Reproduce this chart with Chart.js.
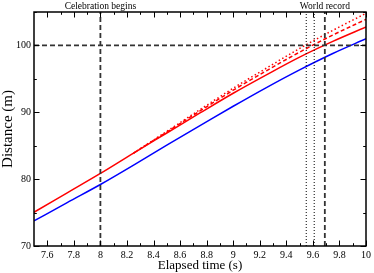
<!DOCTYPE html>
<html>
<head>
<meta charset="utf-8">
<script src="https://cdn.jsdelivr.net/npm/chart.js@4.4.1/dist/chart.umd.min.js"></script>
<style>
  body { margin: 0; background: #fff; }
</style>
</head>
<body>
<canvas id="raceChart" width="374" height="273"></canvas>
<script>
// Sample times (s) and distances (m)
var times = [7.5, 7.75, 8.0, 8.25, 8.5, 8.75, 9.0, 9.25, 9.5, 9.75, 10.0];
var blueDistance = [73.75, 76.5, 79.2, 82.1, 85.1, 88.0, 90.9, 93.7, 96.35, 98.8, 101.0];
var redDistance = [75.05, 77.95, 80.85, 83.9, 86.9, 89.9, 92.85, 95.6, 98.25, 100.6, 102.75];

// The two extrapolated red curves split off around 8.25 s
var extraTimes = [8.25, 8.5, 8.75, 9.0, 9.25, 9.5, 9.75, 10.0];
var redDashedDistance = [83.9, 87.05, 90.2, 93.3, 96.2, 99.0, 101.55, 103.9];
var redDottedDistance = [83.9, 87.15, 90.4, 93.6, 96.6, 99.55, 102.25, 104.8];

// Reference lines
var celebrationTime = 8.0;
var recordTime = 9.69;
var dottedTimes = [9.55, 9.61];
var finishDistance = 100;

// Axis ticks
var xTicks = [7.6, 7.8, 8.0, 8.2, 8.4, 8.6, 8.8, 9.0, 9.2, 9.4, 9.6, 9.8, 10.0];
var yTicks = [70, 80, 90, 100];

var serif = "'Liberation Serif', 'DejaVu Serif', serif";

function pairs(xs, ys) {
    return xs.map(function (x, i) { return { x: x, y: ys[i] }; });
}

function vline(x) {
    return [{ x: x, y: 70 }, { x: x, y: 105 }];
}

// Frame, inward ticks on all four sides, and the two labels at the top
var framePlugin = {
    id: 'frame',
    afterDraw: function (chart) {
        var ctx = chart.ctx;
        var a = chart.chartArea;
        var xs = chart.scales.x;
        var ys = chart.scales.y;
        ctx.save();
        ctx.strokeStyle = '#000';
        ctx.lineWidth = 1;

        function tickX(v, len) {
            var px = Math.round(xs.getPixelForValue(v)) + 0.5;
            ctx.beginPath();
            ctx.moveTo(px, a.bottom); ctx.lineTo(px, a.bottom - len);
            ctx.moveTo(px, a.top); ctx.lineTo(px, a.top + len);
            ctx.stroke();
        }
        function tickY(v, len) {
            var py = Math.round(ys.getPixelForValue(v)) + 0.5;
            ctx.beginPath();
            ctx.moveTo(a.left, py); ctx.lineTo(a.left + len, py);
            ctx.moveTo(a.right, py); ctx.lineTo(a.right - len, py);
            ctx.stroke();
        }
        xTicks.forEach(function (v, i) {
            tickX(v, 5.5);
            if (i > 0) tickX((v + xTicks[i - 1]) / 2, 2.8);
        });
        yTicks.forEach(function (v) {
            tickY(v, 5.5);
            tickY(v + 5, 2.8);
        });

        ctx.lineWidth = 1.5;
        ctx.strokeRect(a.left, a.top, a.right - a.left, a.bottom - a.top);

        ctx.fillStyle = '#000';
        ctx.font = '9.5px ' + serif;
        ctx.textAlign = 'center';
        ctx.textBaseline = 'alphabetic';
        ctx.fillText('Celebration begins', xs.getPixelForValue(celebrationTime), 8.5);
        ctx.fillText('World record', xs.getPixelForValue(recordTime), 8.5);
        ctx.restore();
    }
};

var refStyle = { borderColor: '#333', borderWidth: 1.8, borderDash: [5, 3], pointRadius: 0, fill: false };
var dotStyle = { borderColor: '#000', borderWidth: 1, borderDash: [1, 2], pointRadius: 0, fill: false };

var datasets = [
    Object.assign({ data: [{ x: 7.5, y: finishDistance }, { x: 10, y: finishDistance }] }, refStyle),
    Object.assign({ data: vline(celebrationTime) }, refStyle),
    Object.assign({ data: vline(recordTime) }, refStyle),
    Object.assign({ data: vline(dottedTimes[0]) }, dotStyle),
    Object.assign({ data: vline(dottedTimes[1]) }, dotStyle),
    {
        data: pairs(extraTimes, redDottedDistance),
        borderColor: '#ff0000', borderWidth: 1.5, borderDash: [1.5, 2.5],
        pointRadius: 0, cubicInterpolationMode: 'monotone'
    },
    {
        data: pairs(extraTimes, redDashedDistance),
        borderColor: '#ff0000', borderWidth: 1.5, borderDash: [4, 2.5],
        pointRadius: 0, cubicInterpolationMode: 'monotone'
    },
    {
        data: pairs(times, redDistance),
        borderColor: '#ff0000', borderWidth: 1.5,
        pointRadius: 0, cubicInterpolationMode: 'monotone'
    },
    {
        data: pairs(times, blueDistance),
        borderColor: '#0000ff', borderWidth: 1.5,
        pointRadius: 0, cubicInterpolationMode: 'monotone'
    }
];

var ctx = document.getElementById('raceChart').getContext('2d');
var raceChart = new Chart(ctx, {
    type: 'line',
    data: { datasets: datasets },
    options: {
        responsive: false,
        devicePixelRatio: 1,
        animation: false,
        layout: { padding: { top: 12, right: 5, left: 0, bottom: 0 } },
        plugins: { legend: { display: false }, tooltip: { enabled: false } },
        scales: {
            x: {
                type: 'linear',
                min: 7.5,
                max: 10,
                afterBuildTicks: function (s) {
                    s.ticks = xTicks.map(function (v) { return { value: v }; });
                },
                afterFit: function (s) { s.height = 27; },
                grid: { display: false, drawTicks: false },
                border: { display: false },
                ticks: {
                    color: '#000',
                    font: { family: serif, size: 10 },
                    padding: 3,
                    maxRotation: 0,
                    autoSkip: false,
                    callback: function (v) { return String(Number(v.toFixed(1))); }
                },
                title: {
                    display: true,
                    text: 'Elapsed time (s)',
                    color: '#000',
                    font: { family: serif, size: 13 },
                    padding: 0
                }
            },
            y: {
                min: 70,
                max: 105,
                afterBuildTicks: function (s) {
                    s.ticks = yTicks.map(function (v) { return { value: v }; });
                },
                afterFit: function (s) { s.width = 34; },
                grid: { display: false, drawTicks: false },
                border: { display: false },
                ticks: {
                    color: '#000',
                    font: { family: serif, size: 10 },
                    padding: 3
                },
                title: {
                    display: true,
                    text: 'Distance (m)',
                    color: '#000',
                    font: { family: serif, size: 15 },
                    padding: { top: -1, bottom: 0 }
                }
            }
        }
    },
    plugins: [framePlugin]
});
</script>
</body>
</html>
